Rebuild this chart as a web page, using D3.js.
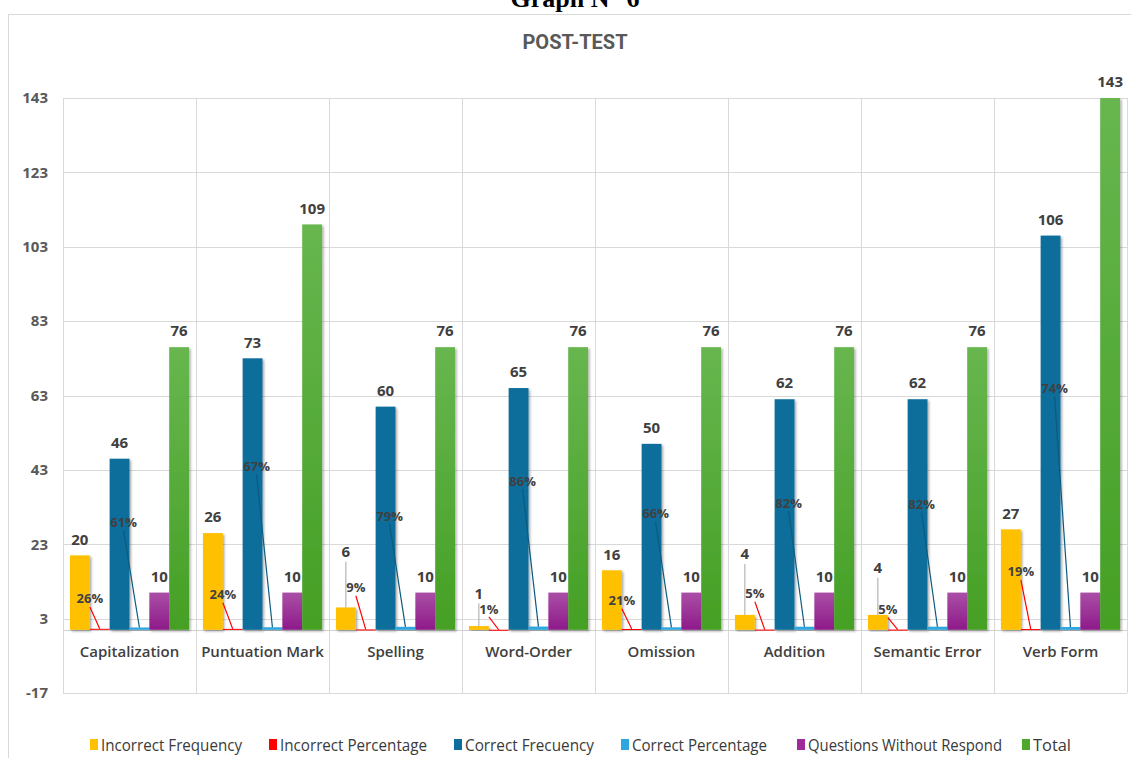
<!DOCTYPE html>
<html lang="en">
<head>
    <meta charset="UTF-8">
    <title>POST-TEST</title>
    <script src="https://cdnjs.cloudflare.com/ajax/libs/d3/7.8.5/d3.min.js"></script>
    <style>
        body { margin: 0; background: #fff; font-family: "Open Sans", Arial, sans-serif; }
        svg { display: block; }
    </style>
</head>
<body>
    <div id="chart"></div>
    <script>
        const categories = ["Capitalization", "Puntuation Mark", "Spelling", "Word-Order",
            "Omission", "Addition", "Semantic Error", "Verb Form"];
        const incorrectFreq = [20, 26, 6, 1, 16, 4, 4, 27];
        const incorrectPct = [0.26, 0.24, 0.09, 0.01, 0.21, 0.05, 0.05, 0.19];
        const correctFreq = [46, 73, 60, 65, 50, 62, 62, 106];
        const correctPct = [0.61, 0.67, 0.79, 0.86, 0.66, 0.82, 0.82, 0.74];
        const noResponse = [10, 10, 10, 10, 10, 10, 10, 10];
        const total = [76, 109, 76, 76, 76, 76, 76, 143];
        const yTicks = [-17, 3, 23, 43, 63, 83, 103, 123, 143];

        // where Excel dragged some labels (in axis units)
        const incPctLabelAt = [8.3, 9.4, 11.3, 5.6, 7.8, 9.7, 5.4, 15.6];
        const corPctLabelAt = [28.8, 43.8, 30.6, 40, 31.2, 34.1, 33.6, 64.8];
        const incFreqLabelAt = [null, null, 21, 9.8, null, 20.4, 16.7, null];

        const series = [
            { name: "Incorrect Frequency", values: incorrectFreq, color: "#FFC000" },
            { name: "Incorrect Percentage", values: incorrectPct, color: "#FF0000" },
            { name: "Correct Frecuency", values: correctFreq, color: "#0E6E9C" },
            { name: "Correct Percentage", values: correctPct, color: "#2EA6DF" },
            { name: "Questions Without Respond", values: noResponse, color: "url(#gPurple)", key: "#A0299C" },
            { name: "Total", values: total, color: "url(#gGreen)", key: "#4EA72E" }
        ];

        const width = 1131, height = 758;
        const svg = d3.select("#chart").append("svg")
            .attr("width", width).attr("height", height);

        const defs = svg.append("defs");
        function grad(id, top, bottom) {
            const g = defs.append("linearGradient").attr("id", id)
                .attr("x1", 0).attr("y1", 0).attr("x2", 0).attr("y2", 1);
            g.append("stop").attr("offset", "0%").attr("stop-color", top);
            g.append("stop").attr("offset", "100%").attr("stop-color", bottom);
        }
        grad("gPurple", "#AA4FA6", "#8E1A8A");
        grad("gGreen", "#67B64F", "#45A024");
        defs.append("filter").attr("id", "shadow")
            .attr("x", "-20%").attr("y", "-5%").attr("width", "160%").attr("height", "115%")
            .append("feDropShadow")
            .attr("dx", 1.5).attr("dy", 1.5).attr("stdDeviation", 1.2)
            .attr("flood-color", "#000").attr("flood-opacity", 0.35);

        // heading above the chart frame, cut by the page top like in the source
        svg.append("text")
            .attr("x", 575).attr("y", 7)
            .attr("text-anchor", "middle")
            .style("font-family", "'Liberation Serif', 'Times New Roman', serif")
            .style("font-weight", "bold").style("font-size", "26px")
            .text("Graph N° 6");

        // chart frame
        svg.append("rect")
            .attr("x", 8.5).attr("y", 14.5).attr("width", 1140).attr("height", 760)
            .attr("fill", "none").attr("stroke", "#d9d9d9");

        svg.append("text")
            .attr("x", 575).attr("y", 49)
            .attr("text-anchor", "middle")
            .style("font-family", "Roboto, 'Open Sans', sans-serif")
            .style("font-weight", "bold").style("font-size", "20px")
            .attr("fill", "#595959")
            .text("POST-TEST");

        const plot = { left: 63, right: 1127, top: 98, bottom: 693 };

        const y = d3.scaleLinear().domain([-17, 143]).range([plot.bottom, plot.top]);
        const x0 = d3.scaleBand().domain(categories).range([plot.left, plot.right]).padding(0);
        const x1 = d3.scaleBand().domain(series.map(s => s.name))
            .range([0, x0.bandwidth()]).paddingInner(0).paddingOuter(0.35);

        // horizontal gridlines
        svg.append("g").selectAll("line").data(yTicks).join("line")
            .attr("x1", plot.left).attr("x2", plot.right)
            .attr("y1", d => Math.round(y(d)) + 0.5).attr("y2", d => Math.round(y(d)) + 0.5)
            .attr("stroke", "#d9d9d9");

        // category separators
        const bounds = categories.map(c => x0(c)).concat([plot.right]);
        svg.append("g").selectAll("line").data(bounds).join("line")
            .attr("x1", d => Math.round(d) + 0.5).attr("x2", d => Math.round(d) + 0.5)
            .attr("y1", plot.top).attr("y2", plot.bottom)
            .attr("stroke", "#d9d9d9");

        // y tick labels
        svg.append("g").selectAll("text").data(yTicks).join("text")
            .attr("x", 48).attr("y", d => y(d)).attr("dy", "0.35em")
            .attr("text-anchor", "end")
            .style("font-family", "'Open Sans', sans-serif")
            .style("font-size", "15px").style("font-weight", "bold")
            .attr("fill", "#595959")
            .text(d => d);

        // category axis line at zero
        svg.append("line")
            .attr("x1", plot.left).attr("x2", plot.right)
            .attr("y1", Math.round(y(0)) + 0.5).attr("y2", Math.round(y(0)) + 0.5)
            .attr("stroke", "#d0d0d0");

        // bars
        const barG = svg.append("g");
        series.forEach(s => {
            barG.append("g").selectAll("rect").data(s.values).join("rect")
                .attr("x", (d, i) => x0(categories[i]) + x1(s.name))
                .attr("width", x1.bandwidth())
                .attr("y", d => y(d))
                .attr("height", d => Math.max(1, y(0) - y(d)))
                .attr("fill", s.color)
                .attr("filter", "url(#shadow)");
        });

        const labelFont = sel => sel
            .style("font-family", "'Open Sans', sans-serif")
            .style("font-weight", "bold")
            .attr("fill", "#404040")
            .attr("text-anchor", "middle");

        const cx = (i, s) => x0(categories[i]) + x1(s) + x1.bandwidth() / 2;

        // value labels for frequency / total series
        const valueSeries = [series[0], series[2], series[4], series[5]];
        const lblG = svg.append("g");
        valueSeries.forEach(s => {
            s.values.forEach((v, i) => {
                const moved = s === series[0] && incFreqLabelAt[i] !== null;
                const ly = moved ? y(incFreqLabelAt[i]) : y(v) - 16;
                if (moved) {
                    lblG.append("line")
                        .attr("x1", cx(i, s.name)).attr("x2", cx(i, s.name))
                        .attr("y1", ly + 10).attr("y2", y(v))
                        .attr("stroke", "#a6a6a6").attr("stroke-width", 1);
                }
                lblG.append("text")
                    .attr("x", cx(i, s.name)).attr("y", ly).attr("dy", "0.35em")
                    .style("font-size", "15px")
                    .call(labelFont)
                    .text(v);
            });
        });

        // percentage labels with leader lines
        function pctLabels(s, anchorSeries, at, dxLabel, lineColor) {
            s.values.forEach((v, i) => {
                const lx = cx(i, anchorSeries) + dxLabel;
                const ly = y(at[i]);
                lblG.append("line")
                    .attr("x1", lx).attr("y1", ly + 8)
                    .attr("x2", cx(i, s.name)).attr("y2", y(v))
                    .attr("stroke", lineColor).attr("stroke-width", 1.2);
                lblG.append("text")
                    .attr("x", lx).attr("y", ly).attr("dy", "0.35em")
                    .style("font-size", "13px")
                    .call(labelFont)
                    .text(Math.round(v * 100) + "%");
            });
        }
        pctLabels(series[1], series[0].name, incPctLabelAt, 10, "#FF0000");
        pctLabels(series[3], series[2].name, corPctLabelAt, 4, "#0B5A80");

        // category labels
        svg.append("g").selectAll("text").data(categories).join("text")
            .attr("x", d => x0(d) + x0.bandwidth() / 2)
            .attr("y", 652).attr("dy", "0.35em")
            .attr("text-anchor", "middle")
            .style("font-family", "'Open Sans', sans-serif")
            .style("font-size", "15px").style("font-weight", 600)
            .attr("fill", "#404040")
            .text(d => d);

        // legend (narrow font in the original, squeezed to the same widths)
        const legendX = [101, 280, 465, 632, 808, 1033];
        const legendW = [141, 147, 129, 135, 194, 38];
        const legend = svg.append("g");
        series.forEach((s, i) => {
            legend.append("rect")
                .attr("x", legendX[i] - 11).attr("y", 739)
                .attr("width", 8).attr("height", 11)
                .attr("fill", s.key || s.color);
            legend.append("text")
                .attr("x", legendX[i]).attr("y", 745).attr("dy", "0.35em")
                .attr("textLength", legendW[i])
                .attr("lengthAdjust", "spacingAndGlyphs")
                .style("font-family", "'Open Sans', sans-serif")
                .style("font-size", "16px")
                .attr("fill", "#3a3a3a")
                .text(s.name);
        });
    </script>
</body>
</html>
